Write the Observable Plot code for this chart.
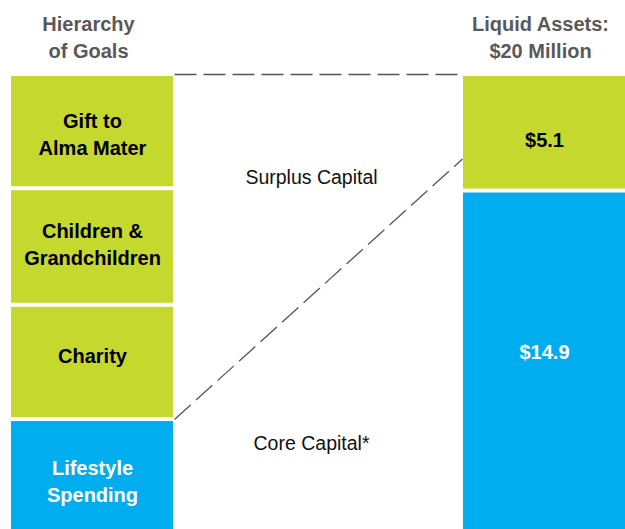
<!DOCTYPE html>
<html>
<head>
<meta charset="utf-8">
<script src="https://cdn.jsdelivr.net/npm/d3@7"></script>
<script src="https://cdn.jsdelivr.net/npm/@observablehq/plot@0.6"></script>
<style>
  html, body { margin: 0; padding: 0; background: #fff; overflow: hidden; }
  #chart svg { display: block; }
</style>
</head>
<body>
<div id="chart"></div>
<script>
// ---- Data ----
const goals = ["Lifestyle\nSpending", "Charity", "Children &\nGrandchildren", "Gift to\nAlma Mater"];
const goalValues = [4.9, 5.0, 5.1, 5.0];
const goalKinds = ["core", "surplus", "surplus", "surplus"];

const assetLabels = ["$14.9", "$5.1"];
const assetValues = [14.9, 5.1];
const assetKinds = ["core", "surplus"];

const headers = ["Hierarchy\nof Goals", "Liquid Assets:\n$20 Million"];

const regionLabels = ["Surplus Capital", "Core Capital*"];
const regionValues = [15.5, 3.85];

// dashed connectors: value on the goals side -> value on the assets side
const connectorFrom = [20, 4.9];
const connectorTo = [20, 16.3];

// ---- Layout / style (not data) ----
const W = 625, H = 529;
const cols = {goals: [11, 173], assets: [463, 625]};
const mid = c => (cols[c][0] + cols[c][1]) / 2;
const GREEN = "#C5D82E", BLUE = "#00AEEF";
const FONT = "Liberation Sans, Arial, Helvetica, sans-serif";
// small vertical nudges of labels inside boxes (value units)
const goalNudge = [-0.17, 0.35, 0.2, -0.07];
const assetNudge = [0.4, -0.35];

function withMids(labels, values, kinds, nudge) {
  let acc = 0;
  return labels.map((l, i) => {
    const y1 = acc; acc += values[i];
    return {label: l, value: values[i], kind: kinds[i], ymid: (y1 + acc) / 2 + nudge[i]};
  });
}
const goalData = withMids(goals, goalValues, goalKinds, goalNudge);
const assetData = withMids(assetLabels, assetValues, assetKinds, assetNudge);
const headerData = headers.map((h, i) => ({label: h, col: i === 0 ? "goals" : "assets"}));
const regionData = regionLabels.map((r, i) => ({label: r, value: regionValues[i]}));
const connData = connectorFrom.map((v, i) => ({from: v, to: connectorTo[i]}));

const textColor = k => (k === "core" ? "#ffffff" : "#000000");

const chart = Plot.plot({
  width: W,
  height: H,
  marginTop: 74,
  marginBottom: -2,
  marginLeft: 0,
  marginRight: 0,
  style: {fontFamily: FONT, background: "#fff"},
  x: {type: "linear", domain: [0, W], range: [0, W], axis: null},
  y: {domain: [0, 20], axis: null},
  color: {domain: ["core", "surplus"], range: [BLUE, GREEN]},
  marks: [
    // left: hierarchy of goals
    Plot.rectY(goalData, {
      x1: cols.goals[0], x2: cols.goals[1], y: "value",
      fill: "kind", insetTop: 2, insetBottom: 2
    }),
    // right: liquid assets
    Plot.rectY(assetData, {
      x1: cols.assets[0], x2: cols.assets[1], y: "value",
      fill: "kind", insetTop: 2, insetBottom: 2
    }),
    // dashed connectors
    Plot.link(connData, {
      x1: cols.goals[1] + 1, x2: cols.assets[0] - 1,
      y1: "from", y2: "to",
      stroke: "#555", strokeWidth: 1.3, strokeDasharray: "22,7"
    }),
    // goal labels
    Plot.text(goalData, {
      x: mid("goals"), y: "ymid", text: "label",
      fill: d => textColor(d.kind),
      fontSize: 20, fontWeight: "bold", lineHeight: 1.35
    }),
    // asset labels
    Plot.text(assetData, {
      x: mid("assets"), y: "ymid", text: "label",
      fill: d => textColor(d.kind),
      fontSize: 20, fontWeight: "bold"
    }),
    // region annotations
    Plot.text(regionData, {
      x: (cols.goals[1] + cols.assets[0]) / 2, dx: -7, y: "value", text: "label",
      fill: "#111", fontSize: 19.5
    }),
    // column headers
    Plot.text(headerData, {
      x: d => mid(d.col), dx: -4, frameAnchor: "top", dy: -39,
      text: "label", lineAnchor: "middle", lineHeight: 1.35,
      fill: "#595959", fontSize: 20, fontWeight: "bold"
    })
  ]
});

document.getElementById("chart").appendChild(chart);
</script>
</body>
</html>
